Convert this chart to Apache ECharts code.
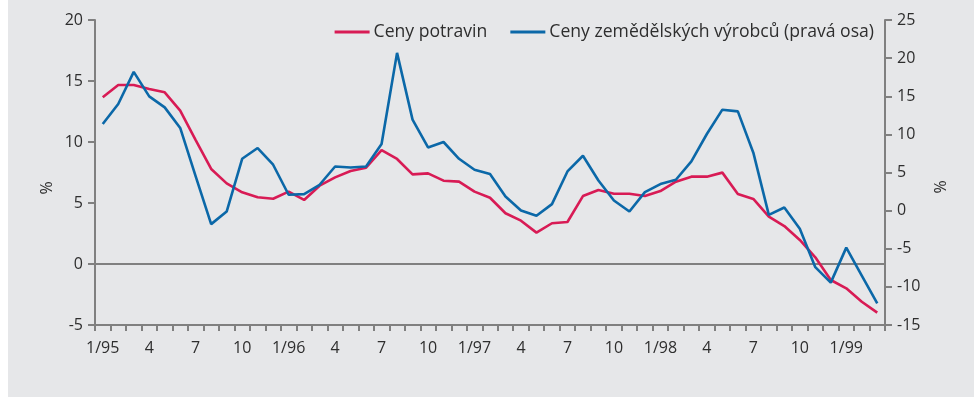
<!DOCTYPE html>
<html>
<head>
<meta charset="utf-8">
<script src="https://cdn.jsdelivr.net/npm/echarts@6/dist/echarts.min.js"></script>
<style>
  html, body { margin: 0; padding: 0; background: #ffffff; }
  #chart { width: 974px; height: 397px; }
</style>
</head>
<body>
<div id="chart"></div>
<script>
// Monthly categories, 1/95 .. 3/99 (every third month is labelled)
var months = [
  '1/95','2','3','4','5','6','7','8','9','10','11','12',
  '1/96','2','3','4','5','6','7','8','9','10','11','12',
  '1/97','2','3','4','5','6','7','8','9','10','11','12',
  '1/98','2','3','4','5','6','7','8','9','10','11','12',
  '1/99','2','3'
];

// Food prices, y/y %, left axis
var foodPrices = [
  13.66, 14.67, 14.67, 14.34, 14.07, 12.57, 10.16, 7.79, 6.61, 5.88,
  5.47, 5.35, 5.93, 5.25, 6.42, 7.10, 7.62, 7.89, 9.34, 8.61,
  7.35, 7.43, 6.83, 6.75, 5.93, 5.43, 4.16, 3.55, 2.57, 3.34,
  3.44, 5.57, 6.07, 5.76, 5.76, 5.57, 5.98, 6.75, 7.16, 7.16,
  7.49, 5.74, 5.33, 3.88, 3.11, 1.97, 0.55, -1.31, -1.99, -3.09,
  -3.99
];

// Agricultural producer prices, y/y %, right axis
var farmPrices = [
  11.36, 13.99, 18.19, 14.99, 13.54, 10.84, 4.48, -1.77, -0.12, 6.80,
  8.21, 6.02, 2.08, 2.17, 3.39, 5.79, 5.66, 5.79, 8.73, 20.69,
  11.93, 8.29, 9.00, 6.80, 5.36, 4.79, 1.85, 0.01, -0.68, 0.85,
  5.14, 7.20, 3.95, 1.33, -0.12, 2.43, 3.48, 4.05, 6.45, 10.05,
  13.24, 13.02, 7.60, -0.55, 0.41, -2.39, -7.42, -9.44, -4.85, -8.52,
  -12.15
];

var seriesNames = ['Ceny potravin', 'Ceny zemědělských výrobců (pravá osa)'];
var leftTicks = { min: -5, max: 20, step: 5 };
var rightTicks = { min: -15, max: 25, step: 5 };

var FONT = 'Open Sans';
var TEXT = '#2e2e2e';
var AXIS = '#808080';
var RED = '#d81b55';
var BLUE = '#0b68a8';

var chart = echarts.init(document.getElementById('chart'), null, { renderer: 'canvas' });

chart.setOption({
  backgroundColor: 'transparent',
  animation: false,
  textStyle: { fontFamily: FONT },
  graphic: [
    { type: 'rect', z: -10, shape: { x: 8, y: 0, width: 966, height: 397 }, style: { fill: '#e6e7e9' } },
    { type: 'text', x: 47, y: 188, rotation: Math.PI / 2,
      style: { text: '%', font: '16px "' + FONT + '"', fill: TEXT, align: 'center', verticalAlign: 'middle' } },
    { type: 'text', x: 941, y: 187, rotation: Math.PI / 2,
      style: { text: '%', font: '16px "' + FONT + '"', fill: TEXT, align: 'center', verticalAlign: 'middle' } }
  ],
  legend: {
    right: 95,
    top: 18,
    itemGap: 23,
    itemWidth: 35,
    itemHeight: 3,
    icon: 'rect',
    textStyle: { fontFamily: FONT, fontSize: 17.6, color: TEXT, padding: [0, 0, 0, -1] },
    data: seriesNames
  },
  grid: { left: 95, right: 89, top: 20, height: 305 },
  xAxis: {
    type: 'category',
    data: months,
    boundaryGap: true,
    axisLine: { onZero: false, lineStyle: { color: AXIS, width: 2 } },
    axisTick: { show: true, interval: 0, length: 6, lineStyle: { color: AXIS, width: 2 } },
    axisLabel: { interval: 2, color: TEXT, fontFamily: FONT, fontSize: 16, margin: 15 },
    splitLine: { show: false }
  },
  yAxis: [
    {
      type: 'value',
      position: 'left',
      min: leftTicks.min, max: leftTicks.max, interval: leftTicks.step,
      axisLine: { show: true, lineStyle: { color: AXIS, width: 2 } },
      axisTick: { show: true, length: 7, lineStyle: { color: AXIS, width: 2 } },
      axisLabel: { color: TEXT, fontFamily: FONT, fontSize: 16, margin: 12 },
      splitLine: { show: false }
    },
    {
      type: 'value',
      position: 'right',
      min: rightTicks.min, max: rightTicks.max, interval: rightTicks.step,
      axisLine: { show: true, lineStyle: { color: AXIS, width: 2 } },
      axisTick: { show: true, length: 7, lineStyle: { color: AXIS, width: 2 } },
      axisLabel: { color: TEXT, fontFamily: FONT, fontSize: 16, margin: 12 },
      splitLine: { show: false }
    }
  ],
  series: [
    {
      name: seriesNames[0],
      type: 'line',
      yAxisIndex: 0,
      data: foodPrices,
      symbol: 'none',
      z: 3,
      lineStyle: { color: RED, width: 2.6 },
      itemStyle: { color: RED },
      markLine: {
        silent: true,
        symbol: 'none',
        label: { show: false },
        lineStyle: { color: AXIS, width: 2, type: 'solid' },
        data: [{ yAxis: 0 }],
        z: 1
      }
    },
    {
      name: seriesNames[1],
      type: 'line',
      yAxisIndex: 1,
      data: farmPrices,
      symbol: 'none',
      z: 4,
      lineStyle: { color: BLUE, width: 2.6 },
      itemStyle: { color: BLUE }
    }
  ]
});
</script>
</body>
</html>
